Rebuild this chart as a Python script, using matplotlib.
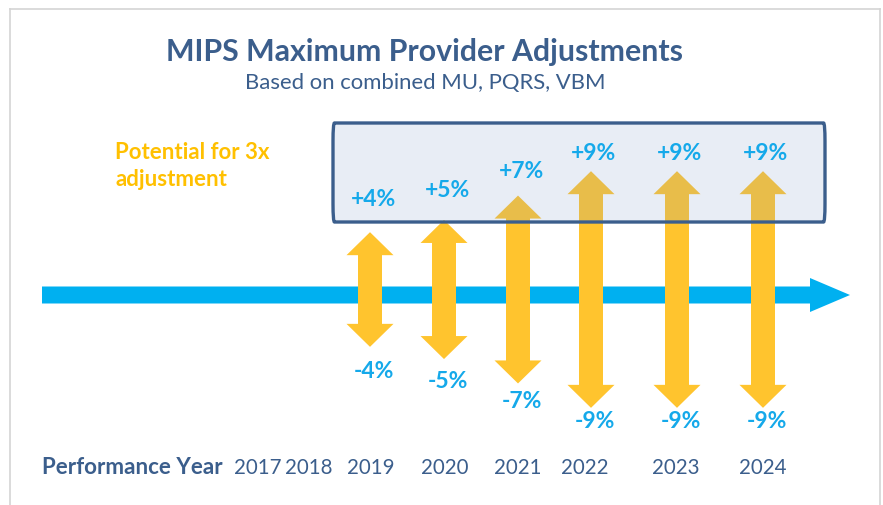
import matplotlib
matplotlib.use("Agg")
import matplotlib.pyplot as plt
from matplotlib.patches import Polygon, FancyBboxPatch, FancyArrow
from matplotlib.lines import Line2D

# ---- data ----
title = "MIPS Maximum Provider Adjustments"
subtitle = "Based on combined MU, PQRS, VBM"
all_years = ["2017", "2018", "2019", "2020", "2021", "2022", "2023", "2024"]
adj_years = ["2019", "2020", "2021", "2022", "2023", "2024"]
max_positive = [4, 5, 7, 9, 9, 9]
max_negative = [-4, -5, -7, -9, -9, -9]
note = "Potential for 3x\nadjustment"
axis_label = "Performance Year"

# ---- layout (pixels) ----
W, H = 883, 505
year_label_x = [258, 309, 371, 445, 518, 585, 676, 763]
arrow_x = [370, 444, 518, 591, 677, 763]
BASE_PY = 295          # pixel row of the timeline
PX = 12.2              # pixels per percentage point

FONT = ["Lato", "Open Sans", "DejaVu Sans"]
DARK = "#3B5E8C"
CYAN = "#15A9EA"
GOLD = "#FFC000"
YELLOW = "#FFC42E"
BLUE = "#00B0F0"

fig = plt.figure(figsize=(W / 100, H / 100), dpi=100)
ax = fig.add_axes([0, 0, 1, 1])
ax.set_xlim(0, W)
ax.set_ylim((BASE_PY - H) / PX, BASE_PY / PX)
ax.axis("off")

def fy(py):
    return 1 - py / H

# frame
for (x0, y0, x1, y1) in [(10, 9, 10, H), (10, 9, 880, 9), (880, 9, 880, H)]:
    fig.add_artist(Line2D([x0 / W, x1 / W], [fy(y0), fy(y1)], color="#D4D4D4", lw=1.2))

# timeline arrow
shaft_h = 17 / PX
ax.add_patch(FancyArrow(42, 0, 808, 0, width=shaft_h, head_width=34 / PX,
                        head_length=40, length_includes_head=True,
                        color=BLUE, lw=0, zorder=1))

# yellow double arrows
hw, sw, hl = 23.5, 12, 23 / PX
for x, up, dn in zip(arrow_x, max_positive, max_negative):
    top = up + 1.15
    bot = dn - 0.25
    pts = [(x, top), (x + hw, top - hl), (x + sw, top - hl), (x + sw, bot + hl),
           (x + hw, bot + hl), (x, bot), (x - hw, bot + hl), (x - sw, bot + hl),
           (x - sw, top - hl), (x - hw, top - hl)]
    ax.add_patch(Polygon(pts, closed=True, color=YELLOW, lw=0, zorder=2))
    ax.text(x + 3, (57.4 + 9.4 * up) / PX, f"+{up}%",
            ha="center", va="center", color=CYAN, fontsize=16.5, fontweight="bold",
            family=FONT, zorder=5)
    ax.text(x + 4, (-37 + 10 * dn) / PX, f"{dn}%",
            ha="center", va="center", color=CYAN, fontsize=16.5, fontweight="bold",
            family=FONT, zorder=5)

# highlight box (drawn over arrows, semi transparent)
bx0, bx1 = 333, 825
by0, by1 = (BASE_PY - 222) / PX, (BASE_PY - 123) / PX
ax.add_patch(FancyBboxPatch((bx0, by0), bx1 - bx0, by1 - by0,
                            boxstyle="round,pad=0,rounding_size=1.5",
                            facecolor=(130 / 255, 160 / 255, 205 / 255, 0.18),
                            edgecolor=DARK, lw=2.4, zorder=3))

# titles
fig.text(425 / W, fy(52), title, ha="center", va="center", color=DARK,
         fontsize=21.8, fontweight="bold", family=FONT)
fig.text(425 / W, fy(83), subtitle, ha="center", va="center", color=DARK,
         fontsize=15.9, family=FONT)
fig.text(115 / W, fy(166), note, ha="left", va="center", color=GOLD,
         fontsize=16, fontweight="bold", family=FONT, linespacing=1.35)

# performance year row
fig.text(42 / W, fy(468), axis_label, ha="left", va="center", color=DARK,
         fontsize=16.1, fontweight="bold", family=FONT)
for x, yr in zip(year_label_x, all_years):
    fig.text(x / W, fy(468), yr, ha="center", va="center", color=DARK,
             fontsize=14.8, family=FONT)

fig.savefig("out.png", dpi=100)
